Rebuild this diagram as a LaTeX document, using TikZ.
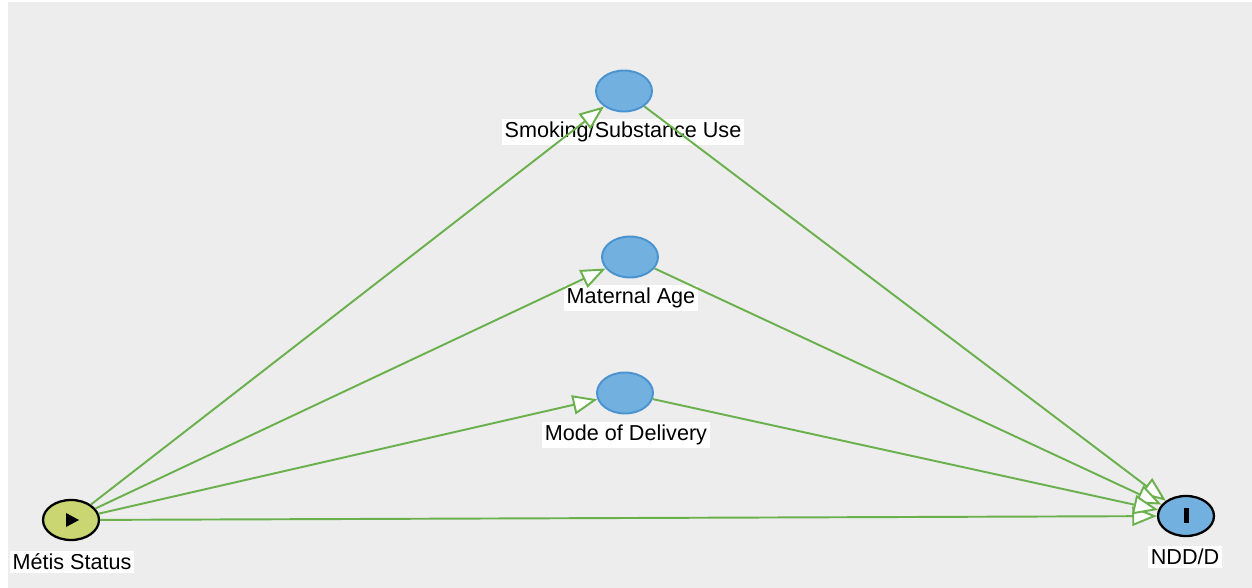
\documentclass[tikz,border=0pt]{standalone}
\usepackage{fontspec}
\setmainfont{Liberation Sans}
\usetikzlibrary{arrows.meta,shapes.geometric}
\definecolor{bggrey}{HTML}{EDEDED}
\definecolor{expcol}{HTML}{C9D672}
\definecolor{varfill}{HTML}{72B0DF}
\definecolor{varline}{HTML}{4A93D0}
\definecolor{arrowgreen}{HTML}{6AB04C}
\tikzset{
  varnode/.style={ellipse,draw=varline,fill=varfill,line width=1.1pt,minimum width=1.12cm,minimum height=0.82cm,inner sep=0pt},
  endnode/.style={ellipse,draw=black,line width=1.3pt,minimum width=1.12cm,minimum height=0.8cm,inner sep=0pt},
  lbl/.style={fill=white,inner sep=1.5pt,font=\fontsize{12.3}{14}\selectfont},
  causal/.style={arrowgreen,line width=1.1pt,-{Triangle[open,fill=white,length=14pt,width=11pt]}}
}
\begin{document}
\begin{tikzpicture}[x=0.02cm,y=-0.02cm]
  \useasboundingbox (0,0) rectangle (1252,588);
  \fill[bggrey] (8,2) rectangle (1252,588);
  \node[endnode,fill=expcol] (metis) at (71,520) {};
  \fill[black] (66,513) -- ++(13,7) -- ++(-13,7) -- cycle;
  \node[endnode,fill=varfill] (ndd) at (1186,516) {};
  \fill[black] (1183.5,508) rectangle (1188.5,523);
  \node[varnode] (smoking) at (624,91) {};
  \node[varnode] (matage) at (630,257) {};
  \node[varnode] (delivery) at (625,393) {};
  \node[lbl] (metislbl) at (72,562) {Métis Status};
  \node[lbl] (nddlbl) at (1185,557) {NDD/D};
  \node[lbl] (smokinglbl) at (623,132) {Smoking/Substance Use};
  \node[lbl] (matagelbl) at (631,298) {Maternal Age};
  \node[lbl] (deliverylbl) at (626,435) {Mode of Delivery};
  \draw[causal] (metis) -- (smoking);
  \draw[causal] (metis) -- (matage);
  \draw[causal] (metis) -- (delivery);
  \draw[causal] (metis) -- (ndd);
  \draw[causal] (smoking) -- (ndd);
  \draw[causal] (matage) -- (ndd);
  \draw[causal] (delivery) -- (ndd);
\end{tikzpicture}
\end{document}
